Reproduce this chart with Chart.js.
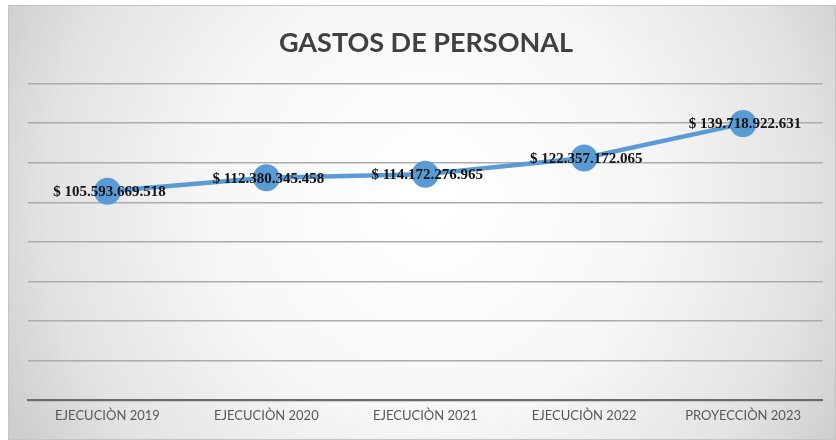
<!DOCTYPE html>
<html>
<head>
<meta charset="utf-8">
<script src="https://cdn.jsdelivr.net/npm/chart.js@4/dist/chart.umd.min.js"></script>
<style>
html,body{margin:0;padding:0;background:#fff;}
#wrap{width:836px;height:440px;position:relative;}
</style>
</head>
<body>
<div id="wrap"><canvas id="c" width="836" height="440"></canvas></div>
<script>
const categories = ["EJECUCIÒN 2019","EJECUCIÒN 2020","EJECUCIÒN 2021","EJECUCIÒN 2022","PROYECCIÒN 2023"];
const gastos = [105593669518, 112380345458, 114172276965, 122357172065, 139718922631];
const valueLabels = ["$ 105.593.669.518","$ 112.380.345.458","$ 114.172.276.965","$ 122.357.172.065","$ 139.718.922.631"];
const yMin = 0, yMax = 160000000000, yStep = 20000000000;

const bgPlugin = {
  id: 'bg',
  beforeDraw(chart) {
    const ctx = chart.ctx;
    const W = chart.width, H = chart.height;
    ctx.save();
    ctx.fillStyle = '#ffffff';
    ctx.fillRect(0, 0, W, H);
    const g = ctx.createRadialGradient(430, 200, 20, 430, 200, 470);
    g.addColorStop(0, '#ffffff');
    g.addColorStop(0.45, '#f6f6f6');
    g.addColorStop(0.8, '#e3e3e3');
    g.addColorStop(1, '#cecece');
    ctx.fillStyle = g;
    ctx.fillRect(8, 5, W - 8, H - 5);
    ctx.strokeStyle = '#c4c4c4';
    ctx.lineWidth = 1;
    ctx.strokeRect(8.5, 5.5, W - 9, H - 6);
    ctx.restore();
  }
};

const labelPlugin = {
  id: 'vlabels',
  afterDatasetsDraw(chart) {
    const ctx = chart.ctx;
    const meta = chart.getDatasetMeta(0);
    ctx.save();
    ctx.font = 'bold 15px "Liberation Serif", "Times New Roman", serif';
    ctx.fillStyle = '#141414';
    ctx.textAlign = 'center';
    ctx.textBaseline = 'middle';
    meta.data.forEach((pt, i) => {
      ctx.fillText(valueLabels[i], pt.x + 2, pt.y + 1);
    });
    ctx.restore();
  }
};

new Chart(document.getElementById('c'), {
  type: 'line',
  data: {
    labels: categories,
    datasets: [{
      data: gastos,
      borderColor: '#5b9bd5',
      backgroundColor: '#5b9bd5',
      borderWidth: 4.5,
      pointRadius: 13.5,
      pointHoverRadius: 13.5,
      pointBackgroundColor: '#5b9bd5',
      pointBorderColor: '#5b9bd5',
      pointBorderWidth: 0,
      tension: 0,
      fill: false
    }]
  },
  options: {
    responsive: false,
    animation: false,
    devicePixelRatio: 1,
    layout: { padding: { left: 28, right: 12, top: 5, bottom: 8 } },
    plugins: {
      legend: { display: false },
      tooltip: { enabled: false },
      title: {
        display: true,
        text: 'GASTOS DE PERSONAL',
        color: '#404040',
        font: { family: 'Lato, "Open Sans", sans-serif', size: 27, weight: 'bold' },
        padding: { top: 22, bottom: 24 }
      }
    },
    scales: {
      x: {
        offset: true,
        grid: { display: false, drawTicks: false },
        border: { display: true, color: '#6b6b6b', width: 2 },
        ticks: {
          color: '#595959',
          padding: 8,
          maxRotation: 0,
          font: { family: 'Lato, "Open Sans", sans-serif', size: 13 }
        }
      },
      y: {
        min: yMin,
        max: yMax,
        ticks: { display: false, stepSize: yStep },
        grid: { color: '#ababab', lineWidth: 1.5, drawTicks: false },
        border: { display: false }
      }
    }
  },
  plugins: [bgPlugin, labelPlugin]
});
</script>
</body>
</html>
